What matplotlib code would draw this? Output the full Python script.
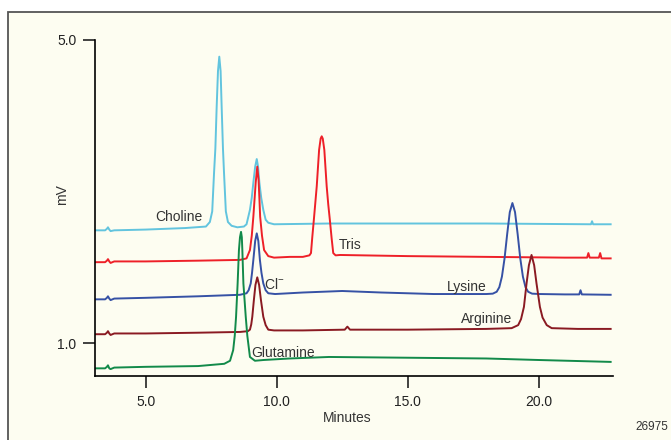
import matplotlib
matplotlib.use("Agg")
import matplotlib.pyplot as plt
from matplotlib.patches import Rectangle
from matplotlib import font_manager

# retention time (min) / signal (mV)
choline_t = [3.07, 3.45, 3.52, 3.56, 3.61, 3.66, 3.80, 5.0, 6.5, 7.30, 7.45, 7.54, 7.61, 7.66, 7.71, 7.76, 7.81,
             7.86, 7.90, 7.95, 7.99, 8.06, 8.14, 8.28, 8.50, 8.75, 8.85, 8.98, 9.05, 9.11, 9.18, 9.24,
             9.29, 9.34, 9.41, 9.49, 9.58, 9.68, 9.90, 12.0, 15.0, 18.0, 22.0, 22.04, 22.08, 22.75]
choline_v = [2.49, 2.49, 2.51, 2.53, 2.50, 2.48, 2.49, 2.50, 2.52, 2.54, 2.60, 2.74, 3.25, 3.57, 4.12, 4.59, 4.78,
             4.59, 4.12, 3.57, 3.25, 2.74, 2.60, 2.55, 2.53, 2.54, 2.57, 2.76, 2.92, 3.12, 3.33, 3.43,
             3.33, 3.12, 2.92, 2.76, 2.63, 2.59, 2.57, 2.58, 2.58, 2.58, 2.57, 2.61, 2.57, 2.57]

tris_t = [3.07, 3.45, 3.52, 3.56, 3.61, 3.66, 3.80, 5.0, 7.0, 8.6, 8.85, 8.98, 9.05, 9.11, 9.16, 9.20, 9.26,
          9.31, 9.34, 9.37, 9.44, 9.52, 9.68, 9.90, 10.5, 11.0, 11.25, 11.31, 11.36, 11.42, 11.53,
          11.62, 11.68, 11.72, 11.76, 11.82, 11.91, 11.97, 12.03, 12.10, 12.16, 12.25, 12.42, 15.0, 18.0, 21.0,
          21.85, 21.90, 21.95, 22.30, 22.35, 22.40, 22.75]
tris_v = [2.07, 2.07, 2.09, 2.11, 2.08, 2.06, 2.08, 2.08, 2.09, 2.10, 2.12, 2.23, 2.42, 2.67, 2.92, 3.12, 3.33,
          3.15, 2.92, 2.67, 2.42, 2.23, 2.15, 2.13, 2.14, 2.14, 2.16, 2.19, 2.40, 2.63, 3.07,
          3.55, 3.70, 3.73, 3.70, 3.55, 3.07, 2.83, 2.63, 2.38, 2.19, 2.16, 2.165, 2.15, 2.14, 2.13,
          2.13, 2.19, 2.13, 2.13, 2.19, 2.12, 2.12]

lysine_t = [3.07, 3.45, 3.52, 3.56, 3.61, 3.66, 3.80, 5.0, 7.0, 8.6, 8.85, 8.93, 9.01, 9.06, 9.11, 9.18, 9.24,
            9.30, 9.36, 9.42, 9.49, 9.58, 9.68, 9.94, 11.0, 12.5, 14.0, 16.0, 18.0, 18.25, 18.40,
            18.50, 18.60, 18.70, 18.80, 18.90, 19.00, 19.10, 19.20, 19.30, 19.40, 19.50, 19.60,
            19.75, 20.05, 21.0, 21.55, 21.60, 21.65, 22.75]
lysine_v = [1.58, 1.58, 1.60, 1.62, 1.59, 1.57, 1.59, 1.60, 1.62, 1.64, 1.66, 1.70, 1.79, 1.93, 2.10, 2.35, 2.45,
            2.35, 2.10, 1.93, 1.79, 1.70, 1.66, 1.65, 1.67, 1.69, 1.67, 1.65, 1.65, 1.655, 1.68,
            1.74, 1.88, 2.12, 2.44, 2.73, 2.85, 2.73, 2.44, 2.12, 1.88, 1.74, 1.68,
            1.655, 1.65, 1.645, 1.645, 1.70, 1.645, 1.64]

arginine_t = [3.07, 3.45, 3.52, 3.56, 3.61, 3.66, 3.80, 5.0, 7.0, 8.6, 8.90, 8.98, 9.03, 9.07, 9.13, 9.19, 9.26,
              9.33, 9.40, 9.49, 9.58, 9.68, 9.90, 11.0, 12.6, 12.7, 12.8, 15.0, 18.0, 18.97, 19.22,
              19.33, 19.44, 19.54, 19.63, 19.73, 19.83, 19.92, 20.05, 20.15, 20.31, 20.50, 21.5, 22.75]
arginine_v = [1.12, 1.12, 1.14, 1.16, 1.13, 1.11, 1.13, 1.13, 1.14, 1.15, 1.16, 1.18, 1.25, 1.35, 1.57, 1.77, 1.87,
              1.77, 1.57, 1.35, 1.24, 1.18, 1.17, 1.17, 1.18, 1.22, 1.18, 1.18, 1.19, 1.20, 1.24,
              1.32, 1.48, 1.79, 2.03, 2.165, 2.03, 1.79, 1.48, 1.34, 1.24, 1.20, 1.19, 1.19]

glutamine_t = [3.07, 3.45, 3.52, 3.56, 3.61, 3.66, 3.80, 5.0, 7.0, 8.0, 8.22, 8.34, 8.40, 8.45, 8.51, 8.56, 8.60,
               8.64, 8.67, 8.69, 8.73, 8.82, 8.88, 8.98, 9.17, 9.5, 10.5, 12.0, 15.0, 18.0, 20.0, 22.75]
glutamine_v = [0.67, 0.67, 0.69, 0.71, 0.67, 0.66, 0.68, 0.69, 0.70, 0.73, 0.77, 0.91, 1.10, 1.35, 1.79, 2.23, 2.40,
               2.47, 2.40, 2.23, 1.79, 1.35, 1.10, 0.82, 0.77, 0.78, 0.80, 0.82, 0.81, 0.80, 0.78, 0.755]

labels = ["Choline", "Tris", "Cl$^{-}$", "Lysine", "Arginine", "Glutamine"]
label_t = [6.27, 12.79, 9.90, 17.25, 18.01, 10.25]
label_v = [2.67, 2.30, 1.77, 1.74, 1.32, 0.876]

x_ticks = [5.0, 10.0, 15.0, 20.0]
y_ticks = [1.0, 5.0]

names = [f.name for f in font_manager.fontManager.ttflist]
fam = 'Liberation Sans Narrow' if 'Liberation Sans Narrow' in names else 'Liberation Sans'
plt.rcParams['font.family'] = [fam, 'DejaVu Sans']
plt.rcParams['mathtext.fontset'] = 'custom'
plt.rcParams['mathtext.rm'] = fam

fig = plt.figure(figsize=(6.71, 4.40), dpi=100, facecolor='white')
fig.patches.append(Rectangle((8 / 671, -0.2), 1.2, 1.2 - 12 / 440, transform=fig.transFigure,
                             facecolor='#fdfdf1', edgecolor='#555555', lw=1.3, zorder=-5))
ax = fig.add_axes([95 / 671, 1 - 376 / 440, (613 - 95) / 671, (376 - 40) / 440])
ax.set_zorder(2)
ax.patch.set_alpha(0)

ax.plot(choline_t, choline_v, color='#62c4de', lw=1.4)
ax.plot(tris_t, tris_v, color='#ee2028', lw=1.4)
ax.plot(lysine_t, lysine_v, color='#3651a5', lw=1.4)
ax.plot(arginine_t, arginine_v, color='#8a1a22', lw=1.4)
ax.plot(glutamine_t, glutamine_v, color='#128a4a', lw=1.4)

for s, t, v in zip(labels, label_t, label_v):
    ax.text(t, v, s, ha='center', va='center', fontsize=10, color='#333333')

ax.set_xlim(3.065, 22.84)
ax.set_ylim(0.569, 5.0)
ax.set_xticks(x_ticks)
ax.set_xticklabels(['%.1f' % x for x in x_ticks])
ax.set_yticks(y_ticks)
ax.set_yticklabels(['%.1f' % y for y in y_ticks])
ax.spines['top'].set_visible(False)
ax.spines['right'].set_visible(False)
for sp in ('left', 'bottom'):
    ax.spines[sp].set_linewidth(1.2)
ax.tick_params(direction='out', length=8.5, width=1.2, labelsize=10, pad=5, colors='#222222')
ax.set_xlabel('Minutes', fontsize=10, color='#333333')
ax.set_ylabel('mV', fontsize=10, color='#333333')
ax.xaxis.set_label_coords(0.486, -0.104)
ax.yaxis.set_label_coords(-0.051, 0.539)

fig.text(668 / 671, 1 - 427 / 440, '26975', ha='right', va='center', fontsize=8.5, color='#333333')

plt.savefig('out.png', dpi=100)
plt.close()
